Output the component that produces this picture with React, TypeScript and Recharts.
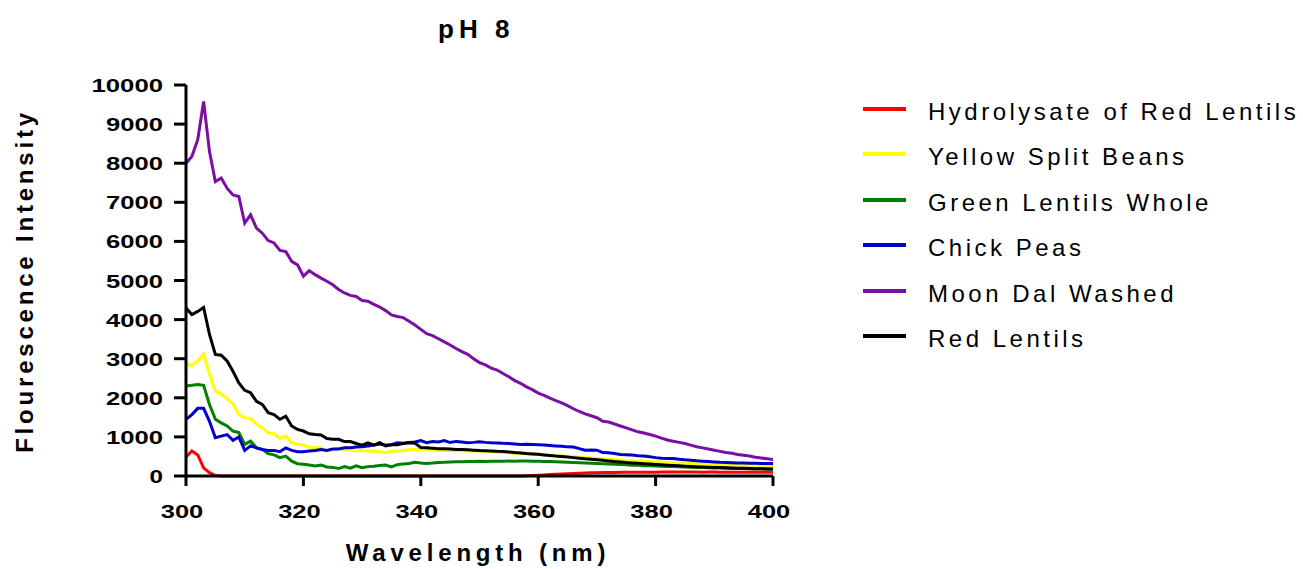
import { LineChart, Line, XAxis, YAxis, Legend, Label } from "recharts";

const FONT = "'Liberation Sans', Arial, Helvetica, sans-serif";

// wavelength (nm), one reading per nm
const WAVELENGTH = [
  300, 301, 302, 303, 304, 305, 306, 307, 308, 309,
  310, 311, 312, 313, 314, 315, 316, 317, 318, 319,
  320, 321, 322, 323, 324, 325, 326, 327, 328, 329,
  330, 331, 332, 333, 334, 335, 336, 337, 338, 339,
  340, 341, 342, 343, 344, 345, 346, 347, 348, 349,
  350, 351, 352, 353, 354, 355, 356, 357, 358, 359,
  360, 361, 362, 363, 364, 365, 366, 367, 368, 369,
  370, 371, 372, 373, 374, 375, 376, 377, 378, 379,
  380, 381, 382, 383, 384, 385, 386, 387, 388, 389,
  390, 391, 392, 393, 394, 395, 396, 397, 398, 399,
  400,
];

const HYDROLYSATE = [
  485, 640, 540, 210, 85, 10, 0, 0, 0, 0,
  0, 0, 0, 0, 0, 0, 0, 0, 0, 0,
  0, 0, 0, 0, 0, 0, 0, 0, 0, 0,
  0, 0, 0, 0, 0, 0, 0, 0, 0, 0,
  0, 0, 0, 0, 0, 0, 0, 0, 0, 0,
  0, 0, 0, 0, 0, 0, 0, 0, 5, 12,
  20, 28, 36, 44, 52, 60, 66, 72, 77, 82,
  86, 88, 90, 92, 94, 95, 96, 97, 98, 98,
  99, 100, 100, 101, 100, 100, 101, 100, 99, 100,
  100, 99, 98, 99, 98, 97, 98, 97, 96, 96,
  95,
];

const YELLOW_SPLIT = [
  2870, 2830, 2940, 3120, 2600, 2170, 2100, 1980, 1850, 1570,
  1490, 1470, 1320, 1230, 1110, 1080, 960, 1020, 850, 810,
  790, 740, 720, 720, 640, 680, 700, 680, 655, 640,
  655, 640, 640, 620, 595, 640, 635, 650, 670, 680,
  680, 665, 660, 655, 660, 650, 650, 645, 640, 640,
  637, 630, 622, 610, 602, 595, 584, 576, 565, 556,
  550, 538, 531, 519, 511, 500, 491, 479, 471, 459,
  450, 441, 429, 421, 409, 400, 393, 384, 379, 369,
  362, 356, 347, 341, 332, 326, 321, 313, 309, 301,
  297, 293, 286, 284, 278, 275, 272, 267, 266, 261,
  260,
];

const GREEN_LENTILS = [
  2300, 2320, 2340, 2320, 1830, 1450, 1360, 1280, 1150, 1110,
  810, 890, 720, 680, 570, 540, 470, 510, 380, 315,
  300, 280, 255, 280, 230, 220, 190, 240, 200, 260,
  210, 240, 250, 270, 280, 230, 290, 310, 320, 350,
  330, 320, 330, 345, 350, 360, 365, 365, 370, 372,
  375, 372, 378, 380, 378, 382, 380, 385, 382, 378,
  375, 372, 368, 365, 360, 352, 345, 340, 332, 325,
  318, 312, 305, 300, 292, 285, 278, 272, 265, 260,
  255, 250, 245, 240, 235, 230, 225, 220, 215, 210,
  205, 202, 198, 195, 192, 190, 188, 186, 184, 182,
  180,
];

const CHICK_PEAS = [
  1450, 1570, 1730, 1730, 1400, 980, 1020, 1060, 910, 1000,
  655, 770, 720, 680, 655, 655, 620, 720, 655, 620,
  620, 640, 655, 680, 655, 690, 690, 720, 720, 740,
  750, 770, 790, 820, 790, 800, 850, 840, 860, 870,
  905, 850, 880, 870, 905, 855, 885, 870, 850, 860,
  875, 860, 850, 845, 835, 830, 820, 805, 810, 805,
  800, 790, 780, 770, 760, 745, 740, 700, 660, 665,
  660, 600, 595, 575, 550, 545, 535, 520, 510, 490,
  470, 455, 450, 450, 430, 415, 405, 390, 380, 370,
  360, 350, 345, 340, 335, 330, 328, 325, 322, 320,
  320,
];

const MOON_DAL = [
  8000, 8170, 8600, 9580, 8300, 7530, 7620, 7360, 7190, 7150,
  6470, 6680, 6340, 6210, 6020, 5960, 5770, 5740, 5490, 5400,
  5110, 5250, 5150, 5060, 4980, 4890, 4770, 4680, 4620, 4590,
  4490, 4470, 4390, 4320, 4230, 4120, 4080, 4050, 3960, 3860,
  3750, 3640, 3590, 3510, 3430, 3350, 3260, 3180, 3110, 3000,
  2900, 2840, 2760, 2710, 2620, 2540, 2440, 2370, 2280, 2210,
  2120, 2060, 1990, 1930, 1870, 1800, 1720, 1650, 1590, 1540,
  1490, 1400, 1380, 1330, 1280, 1230, 1180, 1130, 1100, 1060,
  1020, 970, 920, 890, 860, 830, 790, 750, 720, 690,
  660, 630, 600, 580, 550, 530, 510, 480, 460, 440,
  420,
];

const RED_LENTILS = [
  4300, 4130, 4210, 4310, 3620, 3110, 3090, 2940, 2680, 2380,
  2190, 2130, 1910, 1830, 1620, 1570, 1450, 1530, 1280, 1190,
  1150, 1080, 1060, 1050, 960, 940, 940, 880, 880, 830,
  790, 850, 790, 850, 770, 800, 800, 830, 850, 840,
  730, 720, 710, 700, 700, 690, 680, 680, 670, 660,
  650, 645, 640, 630, 625, 615, 600, 590, 575, 565,
  555, 540, 525, 510, 500, 485, 470, 455, 440, 430,
  415, 400, 385, 370, 360, 345, 335, 325, 315, 305,
  295, 285, 275, 268, 260, 252, 245, 238, 232, 226,
  220, 215, 210, 205, 200, 196, 192, 188, 185, 182,
  180,
];

const X_TICKS = [300, 320, 340, 360, 380, 400];
const Y_TICKS = [0, 1000, 2000, 3000, 4000, 5000, 6000, 7000, 8000, 9000, 10000];

const SERIES = [
  { key: "hydrolysate", name: "Hydrolysate of Red Lentils", color: "#ff0000" },
  { key: "yellow", name: "Yellow Split Beans", color: "#ffff00" },
  { key: "green", name: "Green Lentils Whole", color: "#008000" },
  { key: "chick", name: "Chick Peas", color: "#0000cc" },
  { key: "moon", name: "Moon Dal Washed", color: "#7b0fa3" },
  { key: "red", name: "Red Lentils", color: "#000000" },
];

// digits in the source are drawn wide, so stretch them to the measured width
const DIGIT_PITCH = 14.5;

function XTick(props: any) {
  const { x, y, payload } = props;
  const label = String(payload.value);
  return (
    <text
      x={x - 4}
      y={y}
      textAnchor="middle"
      fontFamily={FONT}
      fontWeight="bold"
      fontSize={19}
      fill="#000"
      textLength={label.length * DIGIT_PITCH - 1}
      lengthAdjust="spacingAndGlyphs"
    >
      {label}
    </text>
  );
}

function YTick(props: any) {
  const { x, y, payload } = props;
  const label = String(payload.value);
  return (
    <text
      x={x}
      y={y}
      dy={7}
      textAnchor="end"
      fontFamily={FONT}
      fontWeight="bold"
      fontSize={19}
      fill="#000"
      textLength={label.length * DIGIT_PITCH - 1}
      lengthAdjust="spacingAndGlyphs"
    >
      {label}
    </text>
  );
}

function LegendBox() {
  return (
    <div style={{ fontFamily: FONT }}>
      {SERIES.map((s) => (
        <div key={s.key} style={{ display: "flex", alignItems: "center", height: 45.5 }}>
          <div style={{ width: 43, height: 4, background: s.color, marginRight: 22 }} />
          <span
            style={{
              fontSize: 24,
              letterSpacing: 3.5,
              lineHeight: 1,
              color: "#000",
              position: "relative",
              top: 3,
              whiteSpace: "nowrap",
            }}
          >
            {s.name}
          </span>
        </div>
      ))}
    </div>
  );
}

export default function App() {
  const data = WAVELENGTH.map((w, i) => ({
    w,
    hydrolysate: HYDROLYSATE[i],
    yellow: YELLOW_SPLIT[i],
    green: GREEN_LENTILS[i],
    chick: CHICK_PEAS[i],
    moon: MOON_DAL[i],
    red: RED_LENTILS[i],
  }));

  return (
    <div style={{ position: "absolute", left: 0, top: 0, width: 1303, height: 569, background: "#fff" }}>
      {/* title */}
      <div
        style={{
          position: "absolute",
          left: 438,
          top: 16,
          fontFamily: FONT,
          fontWeight: "bold",
          fontSize: 26,
          lineHeight: 1,
          letterSpacing: 5,
          color: "#000",
          whiteSpace: "nowrap",
        }}
      >
        pH 8
      </div>
      <LineChart width={1303} height={569} data={data} margin={{ top: 85, right: 530, bottom: 33, left: 0 }}>
        <XAxis
          dataKey="w"
          type="number"
          domain={[300, 400]}
          ticks={X_TICKS}
          allowDataOverflow
          height={60}
          tickSize={10}
          tickMargin={32}
          axisLine={{ stroke: "#000", strokeWidth: 3 }}
          tickLine={{ stroke: "#000", strokeWidth: 3 }}
          tick={(p: any) => <XTick {...p} />}
        >
          <Label
            content={() => (
              <text
                x={478}
                y={561}
                textAnchor="middle"
                fontFamily={FONT}
                fontWeight="bold"
                fontSize={24}
                letterSpacing={4.8}
                fill="#000"
              >
                Wavelength (nm)
              </text>
            )}
          />
        </XAxis>
        <YAxis
          type="number"
          domain={[0, 10000]}
          ticks={Y_TICKS}
          width={186}
          tickSize={12}
          tickMargin={11}
          axisLine={{ stroke: "#000", strokeWidth: 3 }}
          tickLine={{ stroke: "#000", strokeWidth: 3 }}
          tick={(p: any) => <YTick {...p} />}
          interval={0}
        >
          <Label
            content={() => (
              <text
                x={33}
                y={281}
                transform="rotate(-90 33 281)"
                textAnchor="middle"
                fontFamily={FONT}
                fontWeight="bold"
                fontSize={24}
                letterSpacing={3.8}
                fill="#000"
              >
                Flourescence Intensity
              </text>
            )}
          />
        </YAxis>
        <Legend
          layout="vertical"
          align="center"
          verticalAlign="middle"
          content={() => <LegendBox />}
          wrapperStyle={{ left: 863, top: 86, width: 440, height: 280 }}
        />
        {SERIES.map((s) => (
          <Line
            key={s.key}
            dataKey={s.key}
            name={s.name}
            stroke={s.color}
            strokeWidth={3}
            dot={false}
            type="linear"
            isAnimationActive={false}
          />
        ))}
      </LineChart>
    </div>
  );
}
